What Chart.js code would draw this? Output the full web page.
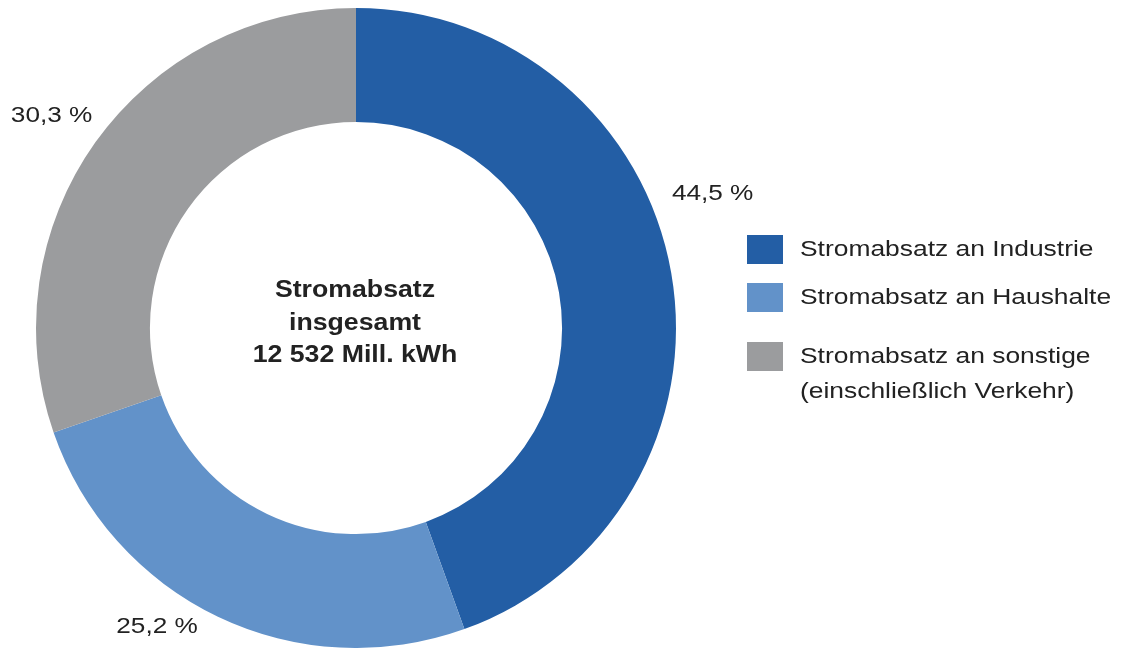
<!DOCTYPE html>
<html lang="de">
<head>
<meta charset="utf-8">
<title>Stromabsatz</title>
<script src="https://cdn.jsdelivr.net/npm/chart.js@4"></script>
<style>
    html, body { margin: 0; padding: 0; background: #ffffff; }
    #wrap { position: relative; width: 1121px; height: 648px; }
</style>
</head>
<body>
<div id="wrap"><canvas id="absatzChart" width="1121" height="648"></canvas></div>
<script>
// Anteile am Stromabsatz (Prozent)
const categories = [
    ['Stromabsatz an Industrie'],
    ['Stromabsatz an Haushalte'],
    ['Stromabsatz an sonstige', '(einschließlich Verkehr)']
];
const shares = [44.5, 25.2, 30.3];
const shareLabels = ['44,5 %', '25,2 %', '30,3 %'];
const centerLines = ['Stromabsatz', 'insgesamt', '12 532 Mill. kWh'];
const colors = ['#235ea5', '#6292c9', '#9b9c9e'];

// placement of the percent labels next to each slice
const labelAngleShift = [-10.7, 8.1, -0.6]; // degrees off the slice middle
const labelGap = [61, 39, 51];               // px beyond outer radius

const TEXT = '#222222';
const FONT = '"Liberation Sans", Arial, Helvetica, sans-serif';

// the source text is horizontally stretched, so draw it that way
function stretchedText(ctx, text, x, y, align, sx) {
    ctx.save();
    ctx.translate(x, y);
    ctx.scale(sx, 1);
    ctx.textAlign = align;
    ctx.fillText(text, 0, 0);
    ctx.restore();
}

const extrasPlugin = {
    id: 'extras',
    afterDraw(chart) {
        const ctx = chart.ctx;
        const meta = chart.getDatasetMeta(0);
        const arc0 = meta.data[0];
        const cx = arc0.x, cy = arc0.y;

        ctx.save();
        ctx.fillStyle = TEXT;
        ctx.textBaseline = 'middle';

        // center text
        ctx.font = 'bold 23px ' + FONT;
        centerLines.forEach((line, i) => {
            stretchedText(ctx, line, cx - 1, cy - 37 + i * 32.5, 'center', 1.16);
        });

        // percent labels
        ctx.font = '22px ' + FONT;
        meta.data.forEach((arc, i) => {
            const mid = (arc.startAngle + arc.endAngle) / 2 + labelAngleShift[i] * Math.PI / 180;
            const r = arc.outerRadius + labelGap[i];
            stretchedText(ctx, shareLabels[i], cx + Math.cos(mid) * r, cy + Math.sin(mid) * r, 'center', 1.19);
        });

        // legend
        const legendX = 747;
        const legendTops = [235, 283, 342];
        categories.forEach((lines, i) => {
            const top = legendTops[i];
            ctx.fillStyle = colors[i];
            ctx.fillRect(legendX, top, 36, 29);
            ctx.fillStyle = TEXT;
            lines.forEach((line, j) => {
                stretchedText(ctx, line, legendX + 53, top + 15 + j * 35, 'left', 1.2);
            });
        });
        ctx.restore();
    }
};

let absatzChartInstance = null;

document.addEventListener('DOMContentLoaded', () => {
    const ctx = document.getElementById('absatzChart').getContext('2d');

    absatzChartInstance = new Chart(ctx, {
        type: 'doughnut',
        data: {
            labels: categories.map(c => c.join(' ')),
            datasets: [{
                data: shares,
                backgroundColor: colors,
                borderWidth: 0,
                hoverOffset: 0
            }]
        },
        options: {
            responsive: false,
            animation: false,
            cutout: '64.4%',
            layout: {
                padding: { left: 36, right: 445, top: 8, bottom: 0 }
            },
            plugins: {
                legend: { display: false },
                tooltip: { enabled: false }
            }
        },
        plugins: [extrasPlugin]
    });
});
</script>
</body>
</html>
